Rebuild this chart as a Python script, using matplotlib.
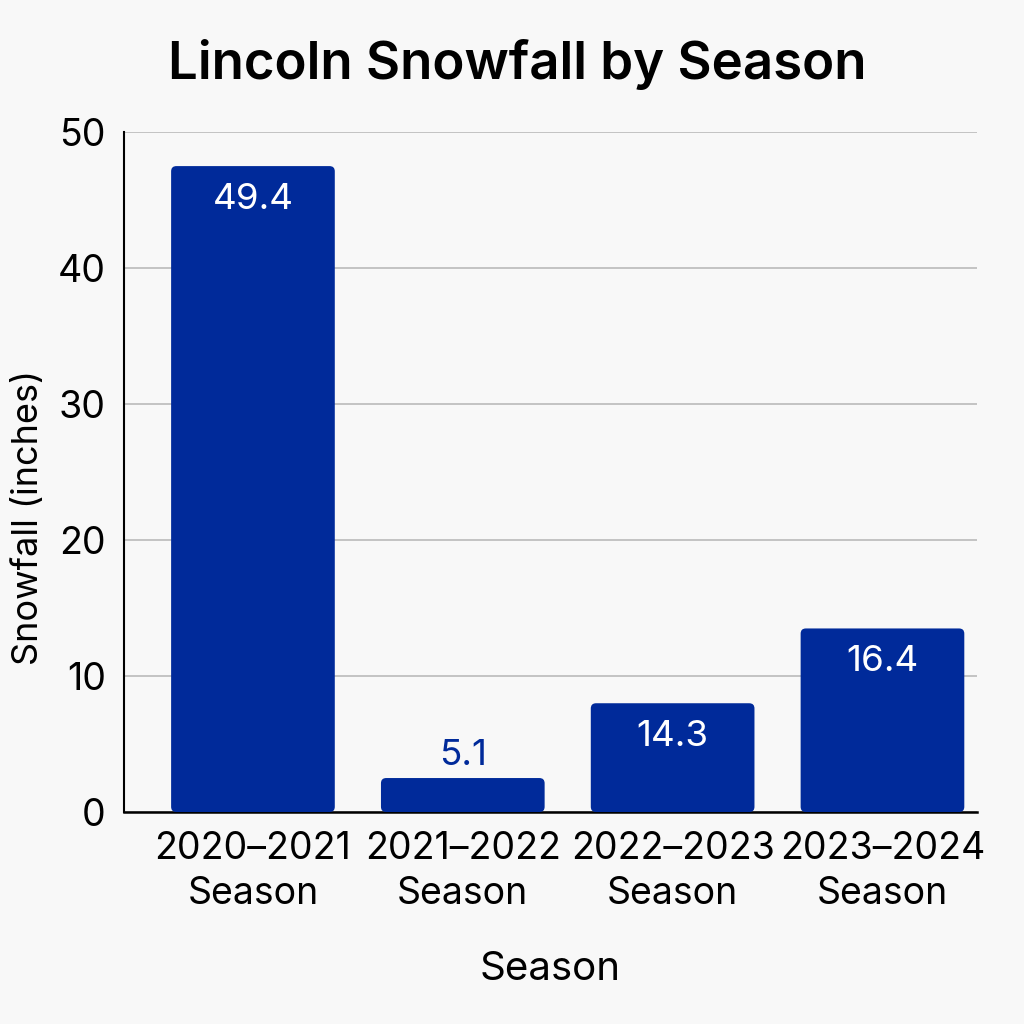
import matplotlib.pyplot as plt
from matplotlib.patches import FancyBboxPatch
import numpy as np

plt.rcParams['font.family'] = ['Inter', 'DejaVu Sans']

# Data (drawn heights differ from the printed labels)
seasons = ['2020\u20132021\nSeason', '2021\u20132022\nSeason',
           '2022\u20132023\nSeason', '2023\u20132024\nSeason']
bar_heights = [47.5, 2.5, 8.0, 13.5]
value_labels = ['49.4', '5.1', '14.3', '16.4']

bar_color = '#002A9A'
bg = '#F8F8F8'

fig = plt.figure(figsize=(10.24, 10.24), dpi=100, facecolor=bg)
ax = fig.add_axes([0.121, 0.207, 0.833, 0.664], facecolor=bg)

x = np.arange(len(seasons))
bars = ax.bar(x, bar_heights, width=0.78, color=bar_color, zorder=3)

# swap plain bars for slightly rounded ones
for b in bars:
    b.set_visible(False)
    p = FancyBboxPatch((b.get_x(), b.get_y()), b.get_width(), b.get_height(),
                       boxstyle='round,pad=0,rounding_size=0.025',
                       mutation_aspect=15.4, color=bar_color, lw=0, zorder=3)
    ax.add_patch(p)

for xi, h, lab in zip(x, bar_heights, value_labels):
    if h > 5:
        ax.annotate(lab, xy=(xi, h), xytext=(0, -12), textcoords='offset points',
                    ha='center', va='top', fontsize=26.5, color='white', zorder=4)
    else:
        ax.annotate(lab, xy=(xi, h), xytext=(0, 4), textcoords='offset points',
                    ha='center', va='bottom', fontsize=26.5, color=bar_color, zorder=4)

ax.set_xlim(-0.615, 3.45)
ax.set_ylim(0, 50)
ax.set_yticks([0, 10, 20, 30, 40, 50])
ax.set_xticks(x)
ax.set_xticklabels(seasons, fontsize=27, linespacing=1.3)
ax.tick_params(axis='y', labelsize=27, length=0, pad=13)
ax.tick_params(axis='x', length=0, pad=14)

ax.yaxis.grid(True, color='#b5b5b5', lw=1.1, zorder=0)
ax.set_axisbelow(True)
for s in ['top', 'right']:
    ax.spines[s].set_visible(False)
ax.spines['left'].set_linewidth(1.5)
ax.spines['bottom'].set_linewidth(1.8)

ax.set_ylabel('Snowfall (inches)', fontsize=26)
ax.yaxis.set_label_coords(-0.093, 0.434)
ax.set_xlabel('Season', fontsize=29, labelpad=28)
fig.text(0.505, 0.937, 'Lincoln Snowfall by Season', ha='center', va='center',
         fontsize=38, fontweight='semibold')

fig.savefig('out.png', dpi=100, facecolor=bg)
